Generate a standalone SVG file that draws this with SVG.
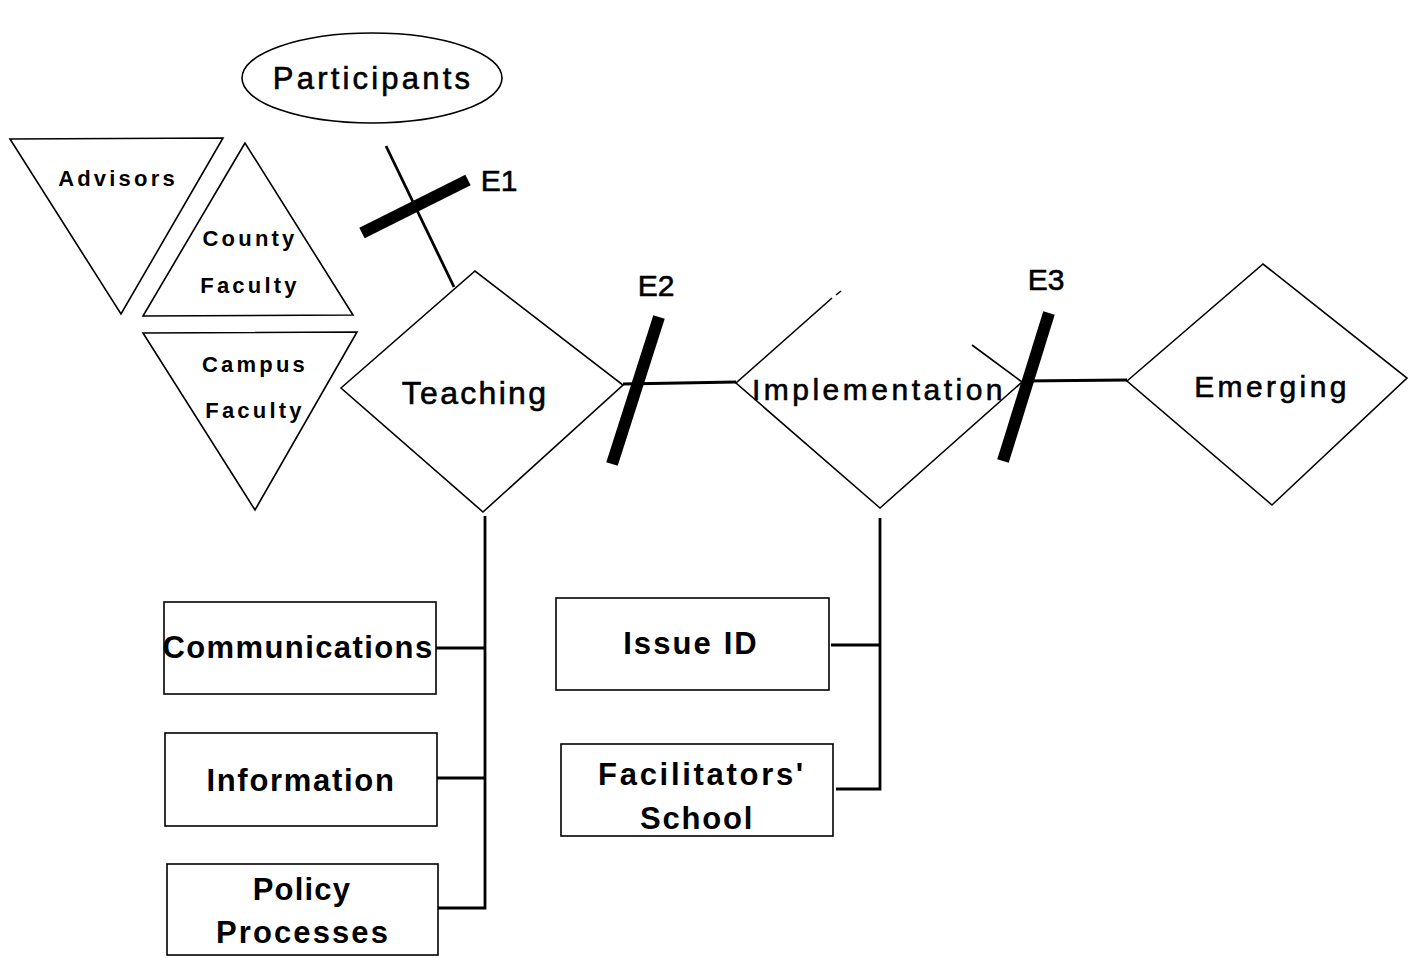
<svg xmlns="http://www.w3.org/2000/svg" width="1410" height="958" viewBox="0 0 1410 958">
  <style>
    .shape { fill: #fff; stroke: #000; stroke-width: 1.6; }
    .edge { fill: none; stroke: #000; stroke-width: 2.8; }
    .cut { fill: none; stroke: #000; stroke-width: 12; }
    .lbl { font-family: "Liberation Sans", Arial, sans-serif; fill: #000; text-anchor: middle; }
    .b { font-weight: bold; }
    .n { stroke: #000; stroke-width: 0.6; }
    .tri { font-size: 22px; letter-spacing: 3.2px; }
  </style>
  <rect width="1410" height="958" fill="#fff"/>

  <!-- connectors -->
  <g id="connectors">
    <line class="edge" x1="386" y1="146" x2="454" y2="287"/>
    <line class="edge" x1="623" y1="384" x2="736" y2="382"/>
    <line class="edge" x1="1022" y1="381" x2="1127" y2="380"/>
    <!-- Teaching branches -->
    <polyline class="edge" points="485,516 485,908 438,908"/>
    <line class="edge" x1="436" y1="648" x2="485" y2="648"/>
    <line class="edge" x1="437" y1="778" x2="485" y2="778"/>
    <!-- Implementation branches -->
    <polyline class="edge" points="880,518 880,789 836,789"/>
    <line class="edge" x1="831" y1="645" x2="880" y2="645"/>
    <!-- cut bars -->
    <line class="cut" x1="362" y1="233" x2="468" y2="180"/>
    <line class="cut" x1="659" y1="317" x2="612" y2="464"/>
    <line class="cut" x1="1049" y1="313" x2="1003" y2="461"/>
    <text class="lbl n" x="499" y="191" font-size="30">E1</text>
    <text class="lbl n" x="656" y="296" font-size="30">E2</text>
    <text class="lbl n" x="1046" y="290" font-size="30">E3</text>
  </g>

  <g id="participants">
    <ellipse class="shape" cx="372" cy="78" rx="130" ry="45"/>
    <text class="lbl n" x="373" y="89" font-size="31" letter-spacing="3.2">Participants</text>
  </g>

  <g id="advisors">
    <polygon class="shape" points="10,139 223,138 121,314"/>
    <text class="lbl b tri" x="118" y="186">Advisors</text>
  </g>

  <g id="county-faculty">
    <polygon class="shape" points="245,143 143,316 353,315"/>
    <text class="lbl b tri" x="250" y="246">County</text>
    <text class="lbl b tri" x="250" y="293">Faculty</text>
  </g>

  <g id="campus-faculty">
    <polygon class="shape" points="143,333 357,332 255,510"/>
    <text class="lbl b tri" x="255" y="372">Campus</text>
    <text class="lbl b tri" x="255" y="418">Faculty</text>
  </g>

  <g id="teaching">
    <polygon class="shape" points="341,388 475,271 623,385 483,512"/>
    <text class="lbl n" x="475" y="404" font-size="32" letter-spacing="2.3">Teaching</text>
  </g>

  <g id="implementation">
    <polyline class="shape" fill="none" points="832,298 736,383 880,508 1022,382 972,345"/>
    <line class="shape" x1="836" y1="295" x2="841" y2="291"/>
    <text class="lbl n" x="879" y="400" font-size="30" letter-spacing="3.5">Implementation</text>
  </g>

  <g id="emerging">
    <polygon class="shape" points="1127,381 1263,264 1407,378 1272,505"/>
    <text class="lbl n" x="1272" y="397" font-size="30" letter-spacing="3.4">Emerging</text>
  </g>

  <g id="communications">
    <rect class="shape" x="164" y="602" width="272" height="92"/>
    <text class="lbl b" x="298" y="658" font-size="31" letter-spacing="1.4">Communications</text>
  </g>

  <g id="information">
    <rect class="shape" x="165" y="733" width="272" height="93"/>
    <text class="lbl b" x="301" y="791" font-size="31" letter-spacing="1.7">Information</text>
  </g>

  <g id="policy-processes">
    <rect class="shape" x="167" y="864" width="271" height="91"/>
    <text class="lbl b" x="302" y="900" font-size="31" letter-spacing="1.2">Policy</text>
    <text class="lbl b" x="303" y="943" font-size="31" letter-spacing="2.1">Processes</text>
  </g>

  <g id="issue-id">
    <rect class="shape" x="556" y="598" width="273" height="92"/>
    <text class="lbl b" x="691" y="654" font-size="31" letter-spacing="2.1">Issue ID</text>
  </g>

  <g id="facilitators-school">
    <rect class="shape" x="561" y="744" width="272" height="92"/>
    <text class="lbl b" x="702" y="785" font-size="31" letter-spacing="2.7">Facilitators'</text>
    <text class="lbl b" x="697" y="829" font-size="31" letter-spacing="1.8">School</text>
  </g>
</svg>
